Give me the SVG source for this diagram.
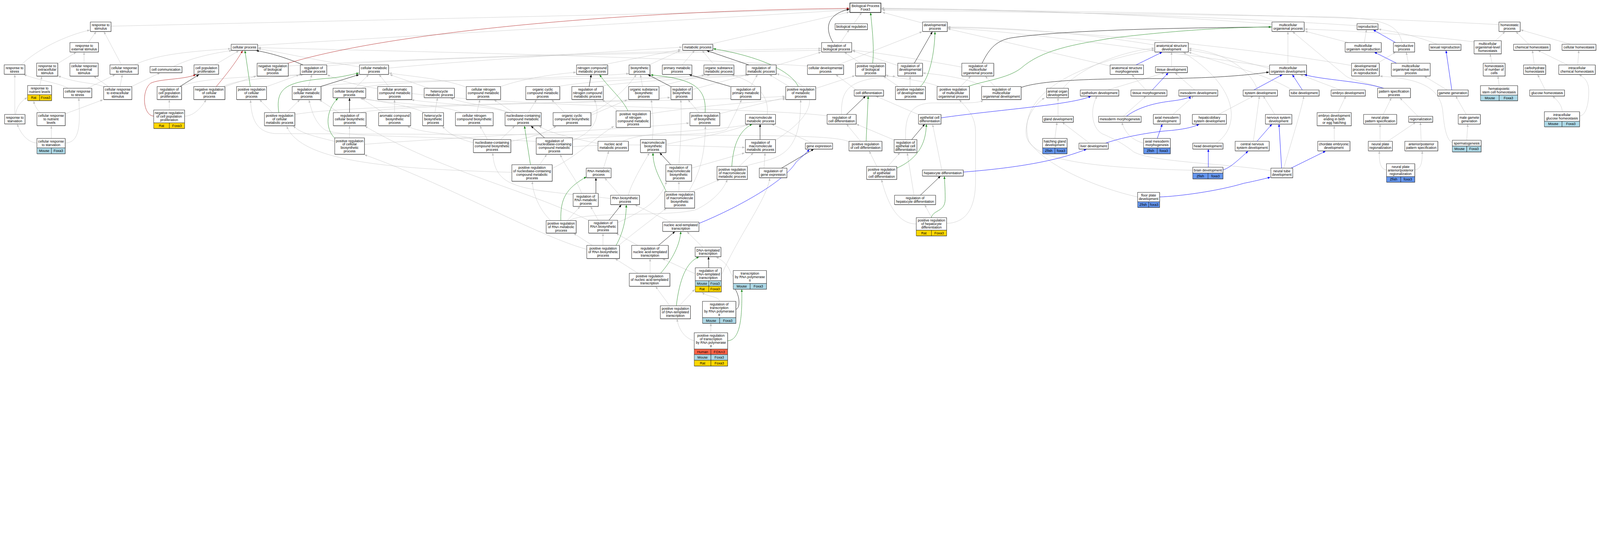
<svg xmlns="http://www.w3.org/2000/svg" width="6111" height="1408" viewBox="0 0 6111 1408" style="width:100vw;height:23.041vw;display:block">
<defs>
<style>
.t{font-family:"Liberation Sans",Arial,Helvetica,sans-serif;font-size:13px;text-anchor:middle;fill:#000}
.b{fill:#fff;stroke:#333;stroke-width:1.5}
.bp{fill:#fff;stroke:#333;stroke-width:2.4}
.s{fill:#777}
.c{stroke:#222;stroke-width:1.2}
.rat{fill:#ffd700}.mouse{fill:#add8e6}.zfish{fill:#6495ed}.human{fill:#ff6347}
.e{fill:none;stroke:#c0c0c0;stroke-width:1.1;marker-end:url(#ag)}
.k{fill:none;stroke:#000;stroke-width:1.3;marker-end:url(#ak)}
.g{fill:none;stroke:#228b22;stroke-width:1.3;marker-end:url(#agr)}
.r{fill:none;stroke:#b22222;stroke-width:1.3;marker-end:url(#ar)}
.u{fill:none;stroke:#0000ff;stroke-width:1.3;marker-end:url(#ab)}
</style>
<marker id="ag" viewBox="0 0 10 8" markerWidth="10" markerHeight="8" refX="10" refY="4" orient="auto" markerUnits="userSpaceOnUse"><path d="M0,0 L10,4 L0,8 z" fill="#c0c0c0"/></marker>
<marker id="ak" viewBox="0 0 10 8" markerWidth="10" markerHeight="8" refX="10" refY="4" orient="auto" markerUnits="userSpaceOnUse"><path d="M0,0 L10,4 L0,8 z" fill="#000"/></marker>
<marker id="agr" viewBox="0 0 10 8" markerWidth="10" markerHeight="8" refX="10" refY="4" orient="auto" markerUnits="userSpaceOnUse"><path d="M0,0 L10,4 L0,8 z" fill="#228b22"/></marker>
<marker id="ar" viewBox="0 0 10 8" markerWidth="10" markerHeight="8" refX="10" refY="4" orient="auto" markerUnits="userSpaceOnUse"><path d="M0,0 L10,4 L0,8 z" fill="#b22222"/></marker>
<marker id="ab" viewBox="0 0 10 8" markerWidth="10" markerHeight="8" refX="10" refY="4" orient="auto" markerUnits="userSpaceOnUse"><path d="M0,0 L10,4 L0,8 z" fill="#0000ff"/></marker>
</defs>
<rect x="0" y="0" width="6111" height="1408" fill="#fff"/>
<g id="edges">
<path class="e" d="M424,100 L3244,35"/>
<path class="e" d="M337,162.5 L367,121"/>
<path class="e" d="M464,247.5 L397,121"/>
<path class="e" d="M81,247.5 C140,190 250,135 343,115"/>
<path class="e" d="M221,242 L291,199.5"/>
<path class="e" d="M321,241 L321,199.5"/>
<path class="e" d="M152,326.5 L160,291.5"/>
<path class="e" d="M260,337 C230,318 160,310 91,285"/>
<path class="e" d="M334,337 L440,285"/>
<path class="e" d="M396,331 C360,315 300,320 222,290"/>
<path class="e" d="M414,330.5 L358,291"/>
<path class="e" d="M458.5,330.5 L467,285"/>
<path class="e" d="M514,247.5 C600,205 750,195 881,186"/>
<path class="e" d="M663,254 C720,225 800,205 885,193"/>
<path class="e" d="M821,247.5 L912,194"/>
<path class="e" d="M503.5,330 L611,278"/>
<path class="e" d="M56.6,437 L56.6,285"/>
<path class="e" d="M60,437 C62,410 80,385 104,373"/>
<path class="e" d="M154,430 C143,420 132,405 129,386"/>
<path class="e" d="M249,434.6 L393,381"/>
<path class="e" d="M141,546 C110,545 80,515 66,474"/>
<path class="e" d="M196,528.5 L196,481"/>
<path class="e" d="M249,546 C310,545 305,460 301,374.5"/>
<path class="e" d="M646.6,420 L646.6,381.5"/>
<path class="e" d="M705.8,443.6 C740,443 770,410 787,381"/>
<path class="e" d="M688,330.5 C760,300 900,295 1152,285"/>
<path class="e" d="M852,330.5 C900,305 1000,300 1158,285"/>
<path class="e" d="M1018,331 L1142,286"/>
<path class="e" d="M858.6,331 L979,290"/>
<path class="e" d="M984,173 L3244,38"/>
<path class="e" d="M1101,252 C1700,215 2700,192 3136,185"/>
<path class="e" d="M1248,252 C1600,215 2700,200 3136,192"/>
<path class="e" d="M1373,255 C1200,230 1050,195 986,186"/>
<path class="e" d="M3084,252 C2500,215 1500,195 986,182"/>
<path class="e" d="M1484,260 C1800,230 2300,200 2605,180"/>
<path class="e" d="M1178,330.5 L1191,285"/>
<path class="e" d="M1095,430 L1145,381"/>
<path class="e" d="M1040,430 L992,381"/>
<path class="e" d="M1356,337 L1408,285"/>
<path class="e" d="M1485,330.5 L1448,285"/>
<path class="e" d="M1638,337 L1489,285"/>
<path class="e" d="M1781,333 C1700,300 1550,290 1486,279"/>
<path class="e" d="M1912,330.5 C2000,300 2100,285 2200,276"/>
<path class="e" d="M2125,331 C2300,300 2600,300 2712,286"/>
<path class="e" d="M1380,337 C1450,305 2200,300 2402,281"/>
<path class="e" d="M1224,331 C1350,300 2400,305 2856,286"/>
<path class="e" d="M2270,331 C2500,300 2750,298 2862,286"/>
<path class="e" d="M1464,430 L1377,374"/>
<path class="e" d="M1622,430 C1560,400 1450,390 1381,374"/>
<path class="e" d="M1763,430 C1680,395 1460,395 1383,376"/>
<path class="e" d="M1507,430 L1507,381"/>
<path class="e" d="M1950,430 C1850,400 1650,395 1572,381"/>
<path class="e" d="M1661,430 L1671,374"/>
<path class="e" d="M1940,430 C1880,400 1780,400 1721,374"/>
<path class="e" d="M1821,430 L1833,381"/>
<path class="e" d="M1961,430 L1887,381"/>
<path class="e" d="M2018,430 L2049,381"/>
<path class="e" d="M2156,430 L2107,381"/>
<path class="e" d="M2186,535 C2290,500 2290,420 2270,381"/>
<path class="e" d="M1912,533 L1966,481"/>
<path class="e" d="M2284,548 C2200,530 2100,510 2059,481"/>
<path class="e" d="M2256,432 C2330,400 2400,330 2430,285"/>
<path class="e" d="M1862,533 L1833,481"/>
<path class="e" d="M1808,545 C1750,530 1710,510 1690,481"/>
<path class="e" d="M1820,533 C1750,510 1600,510 1556,481"/>
<path class="e" d="M1951,540 C2050,520 2100,500 2124,481"/>
<path class="e" d="M2332,758 C2000,720 1890,730 1882,584"/>
<path class="e" d="M1335,526.5 L1335,481"/>
<path class="e" d="M1278.5,540 C1200,520 1150,510 1120,481"/>
<path class="e" d="M1392,551 C1800,520 2300,500 2632,470"/>
<path class="e" d="M1126,437 C1400,390 2500,395 2999,368"/>
<path class="e" d="M2048,540 C1700,520 1280,525 1240,495 C1200,465 1190,420 1180,382"/>
<path class="e" d="M1294,430 L1220,381"/>
<path class="e" d="M1377,430 C1500,400 2300,395 2560,372"/>
<path class="e" d="M2250,842 C2000,720 1700,660 1394,482"/>
<path class="e" d="M2241,952 C2050,900 1700,700 1392,591"/>
<path class="e" d="M1955,658 C1500,645 1150,620 1095,482"/>
<path class="e" d="M2061,629 L2088,590"/>
<path class="e" d="M2109,643 C2200,600 2280,520 2345,482"/>
<path class="e" d="M2103,842 C2060,800 2035,740 2033,693"/>
<path class="e" d="M2222,738.5 C2200,680 2160,640 2140,590"/>
<path class="e" d="M2305,642 L2325,577"/>
<path class="e" d="M2167,842 L2215,789"/>
<path class="e" d="M2262,937 L2191,891"/>
<path class="e" d="M2285,841 L2256,789"/>
<path class="e" d="M2175,842 C2230,805 2560,830 2660,800 C2720,770 2760,730 2778,686"/>
<path class="e" d="M3261,90.5 L3291,48"/>
<path class="e" d="M3210,162.5 L3243,114"/>
<path class="e" d="M3285.5,241.5 L3225,199"/>
<path class="e" d="M2711,169 L3244,46"/>
<path class="e" d="M3523.5,88 L3370,47"/>
<path class="e" d="M4858,92 C4300,50 3800,35 3367,31"/>
<path class="e" d="M5183,98 C4600,60 3900,40 3367,33"/>
<path class="e" d="M5725,94 C5000,55 4000,40 3367,35"/>
<path class="e" d="M5355,162.5 C5340,100 5300,72 5100,65 C4500,55 3800,45 3370,39"/>
<path class="e" d="M2479,248 L2599,193"/>
<path class="e" d="M2605,248 L2653,193"/>
<path class="e" d="M2728,248 L2682,193"/>
<path class="e" d="M2300,248 L2600,189"/>
<path class="e" d="M2454,330.5 L2446,285"/>
<path class="e" d="M2930,437 C2940,360 2880,310 2795,286"/>
<path class="e" d="M2867,330.5 L2893,285"/>
<path class="e" d="M3014,330.5 L2939,285"/>
<path class="e" d="M2644,342 L2856,285"/>
<path class="e" d="M2962,535 C3130,430 3140,330 2966,282"/>
<path class="e" d="M2965,250 L3136,199"/>
<path class="e" d="M3200,248 L3522,121"/>
<path class="e" d="M3271,343.5 L3192,285"/>
<path class="e" d="M3432,330.5 L3374,291"/>
<path class="e" d="M3116,337.5 L3265,289"/>
<path class="e" d="M3429,250 L3256,194"/>
<path class="e" d="M3476,330.5 L3476,291"/>
<path class="e" d="M3760,331 C3700,300 3600,285 3525,279"/>
<path class="e" d="M3673,256 C3500,225 3350,200 3255,192"/>
<path class="e" d="M3507,437 L3345,367"/>
<path class="e" d="M3214,437 C3212,340 3240,300 3420,291"/>
<path class="e" d="M3159,442 C2800,400 1500,420 1250,285"/>
<path class="e" d="M3287,539.5 L3233,474"/>
<path class="e" d="M3416,535 L3271,474"/>
<path class="e" d="M3459,533 C3455,440 3480,395 3560,393 C3700,393 3740,395 3755,382"/>
<path class="e" d="M3391,635.5 L3437,583"/>
<path class="e" d="M3349,635.5 L3320,577"/>
<path class="e" d="M3499,855 C3440,855 3395,800 3367,686"/>
<path class="e" d="M3558,831 L3532,782"/>
<path class="e" d="M3491,745.5 L3465,584"/>
<path class="e" d="M3597,649 L3562,475"/>
<path class="e" d="M3616,853 C3700,850 3726,780 3726,690 L3726,505 C3726,440 3690,410 3664,381"/>
<path class="e" d="M2367,745.5 L2310,680"/>
<path class="e" d="M2400,745.5 C2410,700 2460,620 2480,584"/>
<path class="e" d="M2562,848 L2425,782"/>
<path class="e" d="M2593,732 L2593,693"/>
<path class="e" d="M2640,732 L2748,686"/>
<path class="e" d="M2630,732 C2660,680 2692,620 2694,482"/>
<path class="e" d="M2363,937 C2420,890 2500,830 2545,795"/>
<path class="e" d="M2641,642 L2844,584"/>
<path class="e" d="M2593,629 C2600,540 2605,450 2600,381"/>
<path class="e" d="M2359,850 C2450,810 2530,760 2545,693"/>
<path class="e" d="M2303,937 L2303,891"/>
<path class="e" d="M2436,937 L2353,891"/>
<path class="e" d="M2684,944 L2624,885"/>
<path class="e" d="M2483,1043.5 L2483,988"/>
<path class="e" d="M2437,1043.5 L2350,988"/>
<path class="e" d="M2558,1167.5 L2504,1094"/>
<path class="e" d="M2595,1167.5 L2653,1105"/>
<path class="e" d="M2655,1045 C2620,1030 2580,1010 2530,988"/>
<path class="e" d="M2757,1047 C2820,900 2930,760 2940,680"/>
<path class="e" d="M2800,1056 C2785,1040 2790,1010 2735,981"/>
<path class="e" d="M2748,1151 C2748,1130 2700,1135 2682,1116"/>
<path class="e" d="M2715,1270.5 L2715,1235"/>
<path class="e" d="M2651,1301 C2610,1290 2590,1250 2586,1218"/>
<path class="e" d="M2918,642 L2922,584"/>
<path class="e" d="M2823,635.5 L2877,584"/>
<path class="e" d="M3101,546.5 L2947,474"/>
<path class="e" d="M2543,551 C2700,520 2800,500 2860,474"/>
<path class="e" d="M2377,540 C2450,500 2750,500 2858,475"/>
<path class="e" d="M2186,535 C2300,510 2760,525 2780,490 C2800,450 2820,410 2832,381"/>
<path class="e" d="M2186,560 C2400,545 2700,560 2845,563"/>
<path class="e" d="M2844,635.5 C2950,600 3060,620 3058,381"/>
<path class="e" d="M2670,430 L2628,381"/>
<path class="e" d="M2749,434 L3000,372"/>
<path class="e" d="M2362,423.5 L2300,381"/>
<path class="e" d="M2484,434 C2700,400 2900,390 3000,378"/>
<path class="e" d="M2516,330.5 L2690,286"/>
<path class="e" d="M2491,533 C2500,460 2490,420 2488,381"/>
<path class="e" d="M2257,440 L2396,381"/>
<path class="e" d="M4410,172 C4100,120 3800,103 3620,103"/>
<path class="e" d="M4240,252 L3620,110"/>
<path class="e" d="M5162,250 C4700,170 4000,110 3620,105"/>
<path class="e" d="M4849,255 C4400,190 3900,120 3620,107"/>
<path class="e" d="M4474.5,254.5 L4474.5,199"/>
<path class="e" d="M4061,337 C4100,280 4250,200 4409,184"/>
<path class="e" d="M4231,343.5 L4447,278"/>
<path class="e" d="M4345,752 C4200,720 4000,640 3930,540 C3900,450 3930,280 4409,190"/>
<path class="e" d="M4646,546 C4740,480 4730,330 4520,200"/>
<path class="e" d="M4803,343.5 C4770,250 4650,195 4540,185"/>
<path class="e" d="M4849,262 C4700,220 4600,200 4540,191"/>
<path class="e" d="M4377,343.5 L4323,285"/>
<path class="e" d="M4563,343.5 L4488,278"/>
<path class="e" d="M3668,330.5 L3708,291"/>
<path class="e" d="M3800,330.5 L3763,291"/>
<path class="e" d="M3590,331 C3500,300 3420,300 3383,286"/>
<path class="e" d="M4041,444 L4041,374"/>
<path class="e" d="M4555,650 C4100,640 3940,600 3920,520 C3910,450 3960,390 3990,374"/>
<path class="e" d="M4854,652 C4700,625 4400,620 4330,580 C4280,540 4240,525 4220,515 C4170,500 4160,420 4190,367"/>
<path class="e" d="M4290,444 L4377,367"/>
<path class="e" d="M4480,437 L4559,367"/>
<path class="e" d="M4368,546 C4340,540 4300,520 4285,467"/>
<path class="e" d="M4029,528.5 L4037,467"/>
<path class="e" d="M4161,546.4 L4057,467"/>
<path class="e" d="M4654,437 L4787,367"/>
<path class="e" d="M4787,539.5 L4810,367"/>
<path class="e" d="M4869,437 L4825,367"/>
<path class="e" d="M4919,248 L4919,121"/>
<path class="e" d="M5150,162.5 L4984,119"/>
<path class="e" d="M5285,337 C5200,310 5160,305 5140,290 L4937,121"/>
<path class="e" d="M5630,160 C5400,130 5100,115 4983,111"/>
<path class="e" d="M5211,162.5 L5219,113.5"/>
<path class="e" d="M5261.5,241.5 L5330,199"/>
<path class="e" d="M5379,241.5 L5371,199"/>
<path class="e" d="M5489,169 C5420,140 5330,120 5265,112"/>
<path class="e" d="M5527,343.5 L5440,291"/>
<path class="e" d="M5547,546 C5520,530 5515,470 5510,420 C5500,350 5450,300 5270,291"/>
<path class="e" d="M5600,437 L5560,367"/>
<path class="e" d="M5602,535.5 L5606,474"/>
<path class="e" d="M5711.5,155.5 L5748,121"/>
<path class="e" d="M5839,169 L5790,121"/>
<path class="e" d="M5999,169 L5808,114"/>
<path class="e" d="M5699,241.5 L5691,206"/>
<path class="e" d="M5726,327 L5721,290.5"/>
<path class="e" d="M5860,248 L5853,192.5"/>
<path class="e" d="M5987,248 L5874,192.5"/>
<path class="e" d="M6026,248 L6030,192.5"/>
<path class="e" d="M5902,343.5 L5873,285"/>
<path class="e" d="M5967,426.5 C5965,400 5950,385 5930,367"/>
<path class="e" d="M6033,443 C6060,440 6068,390 6068,350 C6068,320 6060,300 6031,285"/>
<path class="e" d="M5120,343.5 L4966,285"/>
<path class="e" d="M4935,343.5 C4880,310 4800,280 4700,250 C4620,225 4570,210 4540,199"/>
<path class="e" d="M4903,642 C4930,550 4970,420 4980,367"/>
<path class="e" d="M5096,539.5 L5096,481"/>
<path class="e" d="M5110,430 L5140,367"/>
<path class="e" d="M5283,437 L5314,374"/>
<path class="e" d="M5415.5,444 L5347,374"/>
<path class="e" d="M5271,539.5 L5271,474"/>
<path class="e" d="M5300,539.5 L5407,467"/>
<path class="e" d="M5428,539.5 L5425,467"/>
<path class="e" d="M5295.5,649 C5268,645 5268,610 5268,577"/>
<path class="e" d="M5403,649 C5432,645 5432,610 5432,577"/>
<path class="e" d="M3243,541 C3190,518 3000,516 2400,516 L1050,510 C990,505 960,470 957,382"/>
<path class="k" d="M687,330.5 L760,285"/>
<path class="k" d="M1157.5,248 C1080,215 1020,200 978,193"/>
<path class="k" d="M1224,330.5 L1371,285"/>
<path class="k" d="M2250,330.5 L2258,285"/>
<path class="k" d="M1335,430 L1335,374.5"/>
<path class="k" d="M2080,526.5 L2028,481"/>
<path class="k" d="M2276,738.5 L2276,679.5"/>
<path class="k" d="M3182,162.5 C3150,110 3155,55 3244,35"/>
<path class="k" d="M3492,241.5 L3561,121"/>
<path class="k" d="M2860,248 L2699,193"/>
<path class="k" d="M2562,330.5 L2475,285"/>
<path class="k" d="M2790,330.5 L2632,285"/>
<path class="k" d="M3233,437 L3306,367"/>
<path class="k" d="M3482,533 L3532,474"/>
<path class="k" d="M3515,745.5 L3592,672.5"/>
<path class="k" d="M2326,841 L2373,782"/>
<path class="k" d="M2562,629 L2520,583.5"/>
<path class="k" d="M2515,937 L2578,884"/>
<path class="k" d="M2707,1022.5 L2706,980.5"/>
<path class="k" d="M2811,1181 C2830,1175 2825,1120 2800,1094"/>
<path class="k" d="M2903,533 L2903,474"/>
<path class="k" d="M2985,642 L3108,569.5"/>
<path class="k" d="M3751,241.5 C3780,180 3810,155 3860,145 C4050,115 4500,106 4856,103"/>
<path class="k" d="M3900,334 C3980,305 4200,300 4400,300 C4600,300 4750,290 4847,275"/>
<path class="g" d="M956,330.5 L935.5,193"/>
<path class="g" d="M1065,430 C1050,330 1100,310 1265,298 C1300,295 1340,285 1371,279"/>
<path class="g" d="M2398,423.5 C2380,380 2320,330 2290,285"/>
<path class="g" d="M1279,528 C1240,490 1245,420 1291,374.5"/>
<path class="g" d="M2026,629 L2003,481"/>
<path class="g" d="M2142,842 C2140,760 2160,720 2240,675"/>
<path class="g" d="M3333,241.5 C3340,180 3330,100 3325,48"/>
<path class="g" d="M3049,330.5 C3020,270 2900,215 2724,186"/>
<path class="g" d="M2693,430 C2700,330 2640,300 2485,286"/>
<path class="g" d="M3515,330.5 C3550,300 3570,200 3571,121"/>
<path class="g" d="M3308,539.5 L3316,367"/>
<path class="g" d="M3425,642 C3520,600 3537,530 3538,474"/>
<path class="g" d="M3557,831 C3565,800 3610,810 3610,760 C3610,720 3608,700 3607,673"/>
<path class="g" d="M2353,937 C2385,880 2392,820 2392,782"/>
<path class="g" d="M2545,732 C2520,680 2494,640 2494,583.5"/>
<path class="g" d="M2523,1043.5 C2570,990 2598,930 2600,884"/>
<path class="g" d="M2583,1167.5 C2595,1070 2620,1000 2670,981"/>
<path class="g" d="M2779,1301 C2830,1300 2835,1200 2833,1104.5"/>
<path class="g" d="M2795,635.5 C2800,560 2820,500 2873,474"/>
<path class="g" d="M3697,330.5 C3750,310 3850,300 3900,260 C3980,190 4100,170 4250,145 C4500,115 4700,104 4856,103"/>
<path class="r" d="M586.7,443.6 C545,440 540,345 575,318 C610,300 700,305 748,285"/>
<path class="r" d="M826,330.5 C860,290 900,240 927,193"/>
<path class="r" d="M1100,241.5 C1500,120 2400,40 3244,32"/>
<path class="u" d="M2670,853 C2800,800 2990,700 3040,620 C3060,600 3080,585 3091,570"/>
<path class="u" d="M3594,450 C3800,420 4100,400 4167,367"/>
<path class="u" d="M3679,657 C3900,640 4050,610 4150,569.5"/>
<path class="u" d="M4339,248 L4439,199"/>
<path class="u" d="M4401,343.5 L4462,278"/>
<path class="u" d="M4302,444 C4360,400 4440,390 4480,385 C4520,380 4545,372 4547,367"/>
<path class="u" d="M4420,528.5 L4439,474"/>
<path class="u" d="M4223,546.4 C4300,520 4400,505 4450,500 C4520,495 4560,485 4580,474"/>
<path class="u" d="M4801,539.5 L4858,474"/>
<path class="u" d="M4671,649 C4700,640 4730,610 4767,577"/>
<path class="u" d="M4615,638.5 L4615,569.5"/>
<path class="u" d="M4429,752 C4500,750 4650,730 4750,700 C4800,690 4830,682 4852,677"/>
<path class="u" d="M4789,343.5 L4898,285"/>
<path class="u" d="M4974,343.5 L4936,285"/>
<path class="u" d="M5286,337.5 C5200,310 5050,305 4982,285"/>
<path class="u" d="M4895,642 L4885,474"/>
<path class="u" d="M4931,642 L5063,577"/>
<path class="u" d="M5330,162.5 L5245,114"/>
<path class="u" d="M5334,241.5 L5249,199"/>
<path class="u" d="M5545,343.5 L5523,193"/>
</g>
<g id="nodes">
<g id="n1"><rect class="s" x="346" y="85.5" width="79" height="36"/><rect class="b" x="345" y="84" width="79" height="36"/><text class="t" y="99.9"><tspan x="384.5">response to</tspan><tspan x="384.5" dy="13.3">stimulus</tspan></text></g>
<g id="n2"><rect class="s" x="268" y="164" width="109" height="36"/><rect class="b" x="267" y="162.5" width="109" height="36"/><text class="t" y="178.4"><tspan x="321.5">response to</tspan><tspan x="321.5" dy="13.3">external stimulus</tspan></text></g>
<g id="n3"><rect class="s" x="17" y="249" width="79" height="36"/><rect class="b" x="16" y="247.5" width="79" height="36"/><text class="t" y="263.4"><tspan x="55.5">response to</tspan><tspan x="55.5" dy="13.3">stress</tspan></text></g>
<g id="n4"><rect class="s" x="141" y="242.5" width="80.5" height="49.5"/><rect class="b" x="140" y="241" width="80.5" height="49.5"/><text class="t" y="257"><tspan x="180.3">response to</tspan><tspan x="180.3" dy="13.3">extracellular</tspan><tspan x="180.3" dy="13.3">stimulus</tspan></text></g>
<g id="n5"><rect class="s" x="268" y="242.5" width="108" height="49.5"/><rect class="b" x="267" y="241" width="108" height="49.5"/><text class="t" y="257"><tspan x="321">cellular response</tspan><tspan x="321" dy="13.3">to external</tspan><tspan x="321" dy="13.3">stimulus</tspan></text></g>
<g id="n6"><rect class="s" x="421" y="249" width="108" height="36"/><rect class="b" x="420" y="247.5" width="108" height="36"/><text class="t" y="263.4"><tspan x="474">cellular response</tspan><tspan x="474" dy="13.3">to stimulus</tspan></text></g>
<g id="n7"><rect class="s" x="574" y="255.5" width="122" height="23.5"/><rect class="b" x="573" y="254" width="122" height="23.5"/><text class="t" x="634" y="270.3">cell communication</text></g>
<g id="n8"><rect class="s" x="742" y="249" width="94" height="36"/><rect class="b" x="741" y="247.5" width="94" height="36"/><text class="t" y="263.4"><tspan x="788">cell population</tspan><tspan x="788" dy="13.3">proliferation</tspan></text></g>
<g id="n9"><rect class="s" x="983" y="243" width="119" height="49"/><rect class="b" x="982" y="241.5" width="119" height="49"/><text class="t" y="257.2"><tspan x="1041.5">negative regulation</tspan><tspan x="1041.5" dy="13.3">of biological</tspan><tspan x="1041.5" dy="13.3">process</tspan></text></g>
<g id="n10"><rect class="s" x="884" y="170.5" width="101" height="23"/><rect class="b" x="883" y="169" width="101" height="23"/><text class="t" x="933.5" y="185">cellular process</text></g>
<g id="n11"><rect class="s" x="106.5" y="328" width="91.5" height="57.5"/><rect class="b" x="105.5" y="326.5" width="91.5" height="35.5"/><text class="t" y="342.1"><tspan x="151.3">response to</tspan><tspan x="151.3" dy="13.3">nutrient levels</tspan></text><rect class="rat c" x="105.5" y="362" width="46.1" height="22"/><rect class="rat c" x="151.6" y="362" width="45.4" height="22"/><text class="t" x="128.6" y="377.5">Rat</text><text class="t" x="174.3" y="377.5">Foxa3</text></g>
<g id="n12"><rect class="s" x="243.5" y="338.5" width="108" height="36"/><rect class="b" x="242.5" y="337" width="108" height="36"/><text class="t" y="352.9"><tspan x="296.5">cellular response</tspan><tspan x="296.5" dy="13.3">to stress</tspan></text></g>
<g id="n13"><rect class="s" x="397" y="332" width="107.5" height="49.5"/><rect class="b" x="396" y="330.5" width="107.5" height="49.5"/><text class="t" y="346.5"><tspan x="449.8">cellular response</tspan><tspan x="449.8" dy="13.3">to extracellular</tspan><tspan x="449.8" dy="13.3">stimulus</tspan></text></g>
<g id="n14"><rect class="s" x="601" y="332" width="93.5" height="49.5"/><rect class="b" x="600" y="330.5" width="93.5" height="49.5"/><text class="t" y="346.5"><tspan x="646.8">regulation of</tspan><tspan x="646.8" dy="13.3">cell population</tspan><tspan x="646.8" dy="13.3">proliferation</tspan></text></g>
<g id="n15"><rect class="s" x="741" y="332" width="119" height="49.5"/><rect class="b" x="740" y="330.5" width="119" height="49.5"/><text class="t" y="346.5"><tspan x="799.5">negative regulation</tspan><tspan x="799.5" dy="13.3">of cellular</tspan><tspan x="799.5" dy="13.3">process</tspan></text></g>
<g id="n16"><rect class="s" x="904.5" y="332" width="114.5" height="49.5"/><rect class="b" x="903.5" y="330.5" width="114.5" height="49.5"/><text class="t" y="346.5"><tspan x="960.8">positive regulation</tspan><tspan x="960.8" dy="13.3">of cellular</tspan><tspan x="960.8" dy="13.3">process</tspan></text></g>
<g id="n17"><rect class="s" x="18.5" y="438.5" width="78" height="36"/><rect class="b" x="17.5" y="437" width="78" height="36"/><text class="t" y="452.9"><tspan x="56.5">response to</tspan><tspan x="56.5" dy="13.3">starvation</tspan></text></g>
<g id="n18"><rect class="s" x="142" y="431.5" width="108" height="49.5"/><rect class="b" x="141" y="430" width="108" height="49.5"/><text class="t" y="446"><tspan x="195">cellular response</tspan><tspan x="195" dy="13.3">to nutrient</tspan><tspan x="195" dy="13.3">levels</tspan></text></g>
<g id="n19"><rect class="s" x="588" y="421.5" width="118" height="70.5"/><rect class="b" x="587" y="420" width="118" height="49"/><text class="t" y="435.7"><tspan x="646">negative regulation</tspan><tspan x="646" dy="13.3">of cell population</tspan><tspan x="646" dy="13.3">proliferation</tspan></text><rect class="rat c" x="587" y="469" width="59.6" height="21.5"/><rect class="rat c" x="646.6" y="469" width="58.4" height="21.5"/><text class="t" x="616.8" y="484.3">Rat</text><text class="t" x="675.8" y="484.3">Foxa3</text></g>
<g id="n20"><rect class="s" x="142" y="530" width="108" height="58.3"/><rect class="b" x="141" y="528.5" width="108" height="36.3"/><text class="t" y="544.5"><tspan x="195">cellular response</tspan><tspan x="195" dy="13.3">to starvation</tspan></text><rect class="mouse c" x="141" y="564.8" width="55.4" height="22"/><rect class="mouse c" x="196.4" y="564.8" width="52.6" height="22"/><text class="t" x="168.7" y="580.3">Mouse</text><text class="t" x="222.7" y="580.3">Foxa3</text></g>
<g id="n21"><rect class="s" x="1148" y="249.5" width="101" height="36"/><rect class="b" x="1147" y="248" width="101" height="36"/><text class="t" y="263.9"><tspan x="1197.5">regulation of</tspan><tspan x="1197.5" dy="13.3">cellular process</tspan></text></g>
<g id="n22"><rect class="s" x="1374" y="249.5" width="111" height="36"/><rect class="b" x="1373" y="248" width="111" height="36"/><text class="t" y="263.9"><tspan x="1428.5">cellular metabolic</tspan><tspan x="1428.5" dy="13.3">process</tspan></text></g>
<g id="n23"><rect class="s" x="2203" y="249.5" width="119" height="36"/><rect class="b" x="2202" y="248" width="119" height="36"/><text class="t" y="263.9"><tspan x="2261.5">nitrogen compound</tspan><tspan x="2261.5" dy="13.3">metabolic process</tspan></text></g>
<g id="n24"><rect class="s" x="1117" y="332" width="110" height="49.5"/><rect class="b" x="1116" y="330.5" width="110" height="49.5"/><text class="t" y="346.5"><tspan x="1171">regulation of</tspan><tspan x="1171" dy="13.3">cellular metabolic</tspan><tspan x="1171" dy="13.3">process</tspan></text></g>
<g id="n25"><rect class="s" x="1273" y="338.5" width="125" height="36"/><rect class="b" x="1272" y="337" width="125" height="36"/><text class="t" y="352.9"><tspan x="1334.5">cellular biosynthetic</tspan><tspan x="1334.5" dy="13.3">process</tspan></text></g>
<g id="n26"><rect class="s" x="1443.5" y="332" width="130.5" height="49.5"/><rect class="b" x="1442.5" y="330.5" width="130.5" height="49.5"/><text class="t" y="346.5"><tspan x="1507.8">cellular aromatic</tspan><tspan x="1507.8" dy="13.3">compound metabolic</tspan><tspan x="1507.8" dy="13.3">process</tspan></text></g>
<g id="n27"><rect class="s" x="1621" y="338.5" width="115.5" height="36"/><rect class="b" x="1620" y="337" width="115.5" height="36"/><text class="t" y="352.9"><tspan x="1677.8">heterocycle</tspan><tspan x="1677.8" dy="13.3">metabolic process</tspan></text></g>
<g id="n28"><rect class="s" x="1782" y="332" width="131" height="49.5"/><rect class="b" x="1781" y="330.5" width="131" height="49.5"/><text class="t" y="346.5"><tspan x="1846.5">cellular nitrogen</tspan><tspan x="1846.5" dy="13.3">compound metabolic</tspan><tspan x="1846.5" dy="13.3">process</tspan></text></g>
<g id="n29"><rect class="s" x="2009" y="332" width="130" height="49.5"/><rect class="b" x="2008" y="330.5" width="130" height="49.5"/><text class="t" y="346.5"><tspan x="2073">organic cyclic</tspan><tspan x="2073" dy="13.3">compound metabolic</tspan><tspan x="2073" dy="13.3">process</tspan></text></g>
<g id="n30"><rect class="s" x="2185" y="332" width="120" height="49.5"/><rect class="b" x="2184" y="330.5" width="120" height="49.5"/><text class="t" y="346.5"><tspan x="2244">regulation of</tspan><tspan x="2244" dy="13.3">nitrogen compound</tspan><tspan x="2244" dy="13.3">metabolic process</tspan></text></g>
<g id="n31"><rect class="s" x="1011" y="431.5" width="116" height="50"/><rect class="b" x="1010" y="430" width="116" height="50"/><text class="t" y="446.2"><tspan x="1068">positive regulation</tspan><tspan x="1068" dy="13.3">of cellular</tspan><tspan x="1068" dy="13.3">metabolic process</tspan></text></g>
<g id="n32"><rect class="s" x="1274" y="431.5" width="125" height="50"/><rect class="b" x="1273" y="430" width="125" height="50"/><text class="t" y="446.2"><tspan x="1335.5">regulation of</tspan><tspan x="1335.5" dy="13.3">cellular biosynthetic</tspan><tspan x="1335.5" dy="13.3">process</tspan></text></g>
<g id="n33"><rect class="s" x="1447" y="431.5" width="122.5" height="50"/><rect class="b" x="1446" y="430" width="122.5" height="50"/><text class="t" y="446.2"><tspan x="1507.3">aromatic compound</tspan><tspan x="1507.3" dy="13.3">biosynthetic</tspan><tspan x="1507.3" dy="13.3">process</tspan></text></g>
<g id="n34"><rect class="s" x="1615" y="431.5" width="80" height="50"/><rect class="b" x="1614" y="430" width="80" height="50"/><text class="t" y="446.2"><tspan x="1654">heterocycle</tspan><tspan x="1654" dy="13.3">biosynthetic</tspan><tspan x="1654" dy="13.3">process</tspan></text></g>
<g id="n35"><rect class="s" x="1740.5" y="431.5" width="144" height="50"/><rect class="b" x="1739.5" y="430" width="144" height="50"/><text class="t" y="446.2"><tspan x="1811.5">cellular nitrogen</tspan><tspan x="1811.5" dy="13.3">compound biosynthetic</tspan><tspan x="1811.5" dy="13.3">process</tspan></text></g>
<g id="n36"><rect class="s" x="1930" y="431.5" width="138" height="50"/><rect class="b" x="1929" y="430" width="138" height="50"/><text class="t" y="446.2"><tspan x="1998">nucleobase-containing</tspan><tspan x="1998" dy="13.3">compound metabolic</tspan><tspan x="1998" dy="13.3">process</tspan></text></g>
<g id="n37"><rect class="s" x="2113.5" y="431.5" width="144.5" height="50"/><rect class="b" x="2112.5" y="430" width="144.5" height="50"/><text class="t" y="446.2"><tspan x="2184.8">organic cyclic</tspan><tspan x="2184.8" dy="13.3">compound biosynthetic</tspan><tspan x="2184.8" dy="13.3">process</tspan></text></g>
<g id="n38"><rect class="s" x="1279.5" y="528" width="113.5" height="62.5"/><rect class="b" x="1278.5" y="526.5" width="113.5" height="62.5"/><text class="t" y="542.3"><tspan x="1335.3">positive regulation</tspan><tspan x="1335.3" dy="13.3">of cellular</tspan><tspan x="1335.3" dy="13.3">biosynthetic</tspan><tspan x="1335.3" dy="13.3">process</tspan></text></g>
<g id="n39"><rect class="s" x="1809" y="534.5" width="143" height="49.5"/><rect class="b" x="1808" y="533" width="143" height="49.5"/><text class="t" y="549"><tspan x="1879.5">nucleobase-containing</tspan><tspan x="1879.5" dy="13.3">compound biosynthetic</tspan><tspan x="1879.5" dy="13.3">process</tspan></text></g>
<g id="n40"><rect class="s" x="2049" y="528" width="138.5" height="62.5"/><rect class="b" x="2048" y="526.5" width="138.5" height="62.5"/><text class="t" y="542.3"><tspan x="2117.3">regulation of</tspan><tspan x="2117.3" dy="13.3">nucleobase-containing</tspan><tspan x="2117.3" dy="13.3">compound metabolic</tspan><tspan x="2117.3" dy="13.3">process</tspan></text></g>
<g id="n41"><rect class="s" x="2285" y="541" width="116" height="36.5"/><rect class="b" x="2284" y="539.5" width="116" height="36.5"/><text class="t" y="555.6"><tspan x="2342">nucleic acid</tspan><tspan x="2342" dy="13.3">metabolic process</tspan></text></g>
<g id="n42"><rect class="s" x="1956" y="630.5" width="154" height="63"/><rect class="b" x="1955" y="629" width="154" height="63"/><text class="t" y="645"><tspan x="2032">positive regulation</tspan><tspan x="2032" dy="13.3">of nucleobase-containing</tspan><tspan x="2032" dy="13.3">compound metabolic</tspan><tspan x="2032" dy="13.3">process</tspan></text></g>
<g id="n43"><rect class="s" x="2240" y="643.5" width="95" height="36.5"/><rect class="b" x="2239" y="642" width="95" height="36.5"/><text class="t" y="658.1"><tspan x="2286.5">RNA metabolic</tspan><tspan x="2286.5" dy="13.3">process</tspan></text></g>
<g id="n44"><rect class="s" x="2190" y="740" width="96" height="49.5"/><rect class="b" x="2189" y="738.5" width="96" height="49.5"/><text class="t" y="754.5"><tspan x="2237">regulation of</tspan><tspan x="2237" dy="13.3">RNA metabolic</tspan><tspan x="2237" dy="13.3">process</tspan></text></g>
<g id="n45"><rect class="s" x="2087" y="843.5" width="114.5" height="48"/><rect class="b" x="2086" y="842" width="114.5" height="48"/><text class="t" y="857.2"><tspan x="2143.3">positive regulation</tspan><tspan x="2143.3" dy="13.3">of RNA metabolic</tspan><tspan x="2143.3" dy="13.3">process</tspan></text></g>
<g id="n46"><rect class="s" x="2249" y="842.5" width="111" height="49"/><rect class="b" x="2248" y="841" width="111" height="49"/><text class="t" y="856.7"><tspan x="2303.5">regulation of</tspan><tspan x="2303.5" dy="13.3">RNA biosynthetic</tspan><tspan x="2303.5" dy="13.3">process</tspan></text></g>
<g id="n47"><rect class="s" x="2242" y="938.5" width="125" height="50"/><rect class="b" x="2241" y="937" width="125" height="50"/><text class="t" y="953.2"><tspan x="2303.5">positive regulation</tspan><tspan x="2303.5" dy="13.3">of RNA biosynthetic</tspan><tspan x="2303.5" dy="13.3">process</tspan></text></g>
<g id="n48"><rect class="s" x="2333" y="747" width="110.5" height="35.5"/><rect class="b" x="2332" y="745.5" width="110.5" height="35.5"/><text class="t" y="761.1"><tspan x="2387.3">RNA biosynthetic</tspan><tspan x="2387.3" dy="13.3">process</tspan></text></g>
<g id="n49"><rect class="s" x="2540" y="733.5" width="114" height="62.5"/><rect class="b" x="2539" y="732" width="114" height="62.5"/><text class="t" y="747.8"><tspan x="2596">positive regulation</tspan><tspan x="2596" dy="13.3">of macromolecule</tspan><tspan x="2596" dy="13.3">biosynthetic</tspan><tspan x="2596" dy="13.3">process</tspan></text></g>
<g id="n50"><rect class="s" x="3417.5" y="747" width="157" height="35.5"/><rect class="b" x="3416.5" y="745.5" width="157" height="35.5"/><text class="t" y="761.1"><tspan x="3495">regulation of</tspan><tspan x="3495" dy="13.3">hepatocyte differentiation</tspan></text></g>
<g id="n51"><rect class="s" x="2532" y="849.5" width="138.5" height="35.5"/><rect class="b" x="2531" y="848" width="138.5" height="35.5"/><text class="t" y="863.6"><tspan x="2600.3">nucleic acid-templated</tspan><tspan x="2600.3" dy="13.3">transcription</tspan></text></g>
<g id="n52"><rect class="s" x="3500.5" y="832.5" width="116" height="69.5"/><rect class="b" x="3499.5" y="831" width="116" height="48"/><text class="t" y="846.2"><tspan x="3557.5">positive regulation</tspan><tspan x="3557.5" dy="13.3">of hepatocyte</tspan><tspan x="3557.5" dy="13.3">differentiation</tspan></text><rect class="rat c" x="3499.5" y="879" width="58.1" height="21.5"/><rect class="rat c" x="3557.6" y="879" width="57.9" height="21.5"/><text class="t" x="3528.6" y="894.3">Rat</text><text class="t" x="3586.6" y="894.3">Foxa3</text></g>
<g id="n53"><rect class="s" x="2413.5" y="938.5" width="140" height="50"/><rect class="b" x="2412.5" y="937" width="140" height="50"/><text class="t" y="953.2"><tspan x="2482.5">regulation of</tspan><tspan x="2482.5" dy="13.3">nucleic acid-templated</tspan><tspan x="2482.5" dy="13.3">transcription</tspan></text></g>
<g id="n54"><rect class="s" x="2656" y="945.5" width="98.5" height="36"/><rect class="b" x="2655" y="944" width="98.5" height="36"/><text class="t" y="959.9"><tspan x="2704.3">DNA-templated</tspan><tspan x="2704.3" dy="13.3">transcription</tspan></text></g>
<g id="n55"><rect class="s" x="2656.5" y="1024" width="99.5" height="92"/><rect class="b" x="2655.5" y="1022.5" width="99.5" height="49.5"/><text class="t" y="1038.5"><tspan x="2705.3">regulation of</tspan><tspan x="2705.3" dy="13.3">DNA-templated</tspan><tspan x="2705.3" dy="13.3">transcription</tspan></text><rect class="mouse c" x="2655.5" y="1072" width="51.5" height="21"/><rect class="mouse c" x="2707" y="1072" width="48" height="21"/><text class="t" x="2681.3" y="1087">Mouse</text><text class="t" x="2731" y="1087">Foxa3</text><rect class="rat c" x="2655.5" y="1093" width="51.5" height="21.5"/><rect class="rat c" x="2707" y="1093" width="48" height="21.5"/><text class="t" x="2681.3" y="1108.3">Rat</text><text class="t" x="2731" y="1108.3">Foxa3</text></g>
<g id="n56"><rect class="s" x="2801.5" y="1034.5" width="127" height="71"/><rect class="b" x="2800.5" y="1033" width="127" height="49.5"/><text class="t" y="1049"><tspan x="2864">transcription</tspan><tspan x="2864" dy="13.3">by RNA polymerase</tspan><tspan x="2864" dy="13.3">II</tspan></text><rect class="mouse c" x="2800.5" y="1082.5" width="64.5" height="21.5"/><rect class="mouse c" x="2865" y="1082.5" width="62.5" height="21.5"/><text class="t" x="2832.8" y="1097.8">Mouse</text><text class="t" x="2896.3" y="1097.8">Foxa3</text></g>
<g id="n57"><rect class="s" x="2404.5" y="1045" width="155" height="49.5"/><rect class="b" x="2403.5" y="1043.5" width="155" height="49.5"/><text class="t" y="1059.5"><tspan x="2481">positive regulation</tspan><tspan x="2481" dy="13.3">of nucleic acid-templated</tspan><tspan x="2481" dy="13.3">transcription</tspan></text></g>
<g id="n58"><rect class="s" x="2523" y="1169" width="115" height="49.5"/><rect class="b" x="2522" y="1167.5" width="115" height="49.5"/><text class="t" y="1183.5"><tspan x="2579.5">positive regulation</tspan><tspan x="2579.5" dy="13.3">of DNA-templated</tspan><tspan x="2579.5" dy="13.3">transcription</tspan></text></g>
<g id="n59"><rect class="s" x="2684" y="1152" width="127.5" height="84"/><rect class="b" x="2683" y="1150.5" width="127.5" height="62.5"/><text class="t" y="1166.3"><tspan x="2746.8">regulation of</tspan><tspan x="2746.8" dy="13.3">transcription</tspan><tspan x="2746.8" dy="13.3">by RNA polymerase</tspan><tspan x="2746.8" dy="13.3">II</tspan></text><rect class="mouse c" x="2683" y="1213" width="65.5" height="21.5"/><rect class="mouse c" x="2748.5" y="1213" width="62" height="21.5"/><text class="t" x="2715.8" y="1228.3">Mouse</text><text class="t" x="2779.5" y="1228.3">Foxa3</text></g>
<g id="n60"><rect class="s" x="2652.5" y="1272" width="127.5" height="127"/><rect class="b" x="2651.5" y="1270.5" width="127.5" height="62.5"/><text class="t" y="1286.3"><tspan x="2715.3">positive regulation</tspan><tspan x="2715.3" dy="13.3">of transcription</tspan><tspan x="2715.3" dy="13.3">by RNA polymerase</tspan><tspan x="2715.3" dy="13.3">II</tspan></text><rect class="human c" x="2651.5" y="1333" width="63.8" height="21"/><rect class="human c" x="2715.3" y="1333" width="63.7" height="21"/><text class="t" x="2683.4" y="1348">Human</text><text class="t" x="2747.2" y="1348">FOXA3</text><rect class="mouse c" x="2651.5" y="1354" width="63.8" height="21.5"/><rect class="mouse c" x="2715.3" y="1354" width="63.7" height="21.5"/><text class="t" x="2683.4" y="1369.3">Mouse</text><text class="t" x="2747.2" y="1369.3">Foxa3</text><rect class="rat c" x="2651.5" y="1375.5" width="63.8" height="22"/><rect class="rat c" x="2715.3" y="1375.5" width="63.7" height="22"/><text class="t" x="2683.4" y="1391">Rat</text><text class="t" x="2747.2" y="1391">Foxa3</text></g>
<g id="n61"><rect class="s" x="3247" y="13" width="118.5" height="36"/><rect class="bp" x="3246" y="11.5" width="118.5" height="36"/><text class="t" y="27.4"><tspan x="3305.3">Biological Process</tspan><tspan x="3305.3" dy="13.3">Foxa3</tspan></text></g>
<g id="n62"><rect class="s" x="3190.5" y="92" width="123.5" height="22.5"/><rect class="b" x="3189.5" y="90.5" width="123.5" height="22.5"/><text class="t" x="3251.3" y="106.3">biological regulation</text></g>
<g id="n63"><rect class="s" x="3524.5" y="85.5" width="94.5" height="36"/><rect class="b" x="3523.5" y="84" width="94.5" height="36"/><text class="t" y="99.9"><tspan x="3570.8">developmental</tspan><tspan x="3570.8" dy="13.3">process</tspan></text></g>
<g id="n64"><rect class="s" x="2608.5" y="170.5" width="115" height="23"/><rect class="b" x="2607.5" y="169" width="115" height="23"/><text class="t" x="2665" y="185">metabolic process</text></g>
<g id="n65"><rect class="s" x="3139" y="164" width="115" height="36"/><rect class="b" x="3138" y="162.5" width="115" height="36"/><text class="t" y="178.4"><tspan x="3195.5">regulation of</tspan><tspan x="3195.5" dy="13.3">biological process</tspan></text></g>
<g id="n66"><rect class="s" x="2403.5" y="249.5" width="80" height="36"/><rect class="b" x="2402.5" y="248" width="80" height="36"/><text class="t" y="263.9"><tspan x="2442.5">biosynthetic</tspan><tspan x="2442.5" dy="13.3">process</tspan></text></g>
<g id="n67"><rect class="s" x="2530.5" y="249.5" width="113" height="36"/><rect class="b" x="2529.5" y="248" width="113" height="36"/><text class="t" y="263.9"><tspan x="2586">primary metabolic</tspan><tspan x="2586" dy="13.3">process</tspan></text></g>
<g id="n68"><rect class="s" x="2689.5" y="249.5" width="114.5" height="36"/><rect class="b" x="2688.5" y="248" width="114.5" height="36"/><text class="t" y="263.9"><tspan x="2745.8">organic substance</tspan><tspan x="2745.8" dy="13.3">metabolic process</tspan></text></g>
<g id="n69"><rect class="s" x="2850.5" y="249.5" width="115" height="36"/><rect class="b" x="2849.5" y="248" width="115" height="36"/><text class="t" y="263.9"><tspan x="2907">regulation of</tspan><tspan x="2907" dy="13.3">metabolic process</tspan></text></g>
<g id="n70"><rect class="s" x="3085" y="249.5" width="138" height="36"/><rect class="b" x="3084" y="248" width="138" height="36"/><text class="t" y="263.9"><tspan x="3153">cellular developmental</tspan><tspan x="3153" dy="13.3">process</tspan></text></g>
<g id="n71"><rect class="s" x="3268.5" y="243" width="114.5" height="48.5"/><rect class="b" x="3267.5" y="241.5" width="114.5" height="48.5"/><text class="t" y="257"><tspan x="3324.8">positive regulation</tspan><tspan x="3324.8" dy="13.3">of biological</tspan><tspan x="3324.8" dy="13.3">process</tspan></text></g>
<g id="n72"><rect class="s" x="3430" y="243" width="94.5" height="48.5"/><rect class="b" x="3429" y="241.5" width="94.5" height="48.5"/><text class="t" y="257"><tspan x="3476.3">regulation of</tspan><tspan x="3476.3" dy="13.3">developmental</tspan><tspan x="3476.3" dy="13.3">process</tspan></text></g>
<g id="n73"><rect class="s" x="2402" y="332" width="116" height="49.5"/><rect class="b" x="2401" y="330.5" width="116" height="49.5"/><text class="t" y="346.5"><tspan x="2459">organic substance</tspan><tspan x="2459" dy="13.3">biosynthetic</tspan><tspan x="2459" dy="13.3">process</tspan></text></g>
<g id="n74"><rect class="s" x="2563.5" y="332" width="81.5" height="49.5"/><rect class="b" x="2562.5" y="330.5" width="81.5" height="49.5"/><text class="t" y="346.5"><tspan x="2603.3">regulation of</tspan><tspan x="2603.3" dy="13.3">biosynthetic</tspan><tspan x="2603.3" dy="13.3">process</tspan></text></g>
<g id="n75"><rect class="s" x="2792.5" y="332" width="113.5" height="49.5"/><rect class="b" x="2791.5" y="330.5" width="113.5" height="49.5"/><text class="t" y="346.5"><tspan x="2848.3">regulation of</tspan><tspan x="2848.3" dy="13.3">primary metabolic</tspan><tspan x="2848.3" dy="13.3">process</tspan></text></g>
<g id="n76"><rect class="s" x="3002" y="332" width="114.5" height="49.5"/><rect class="b" x="3001" y="330.5" width="114.5" height="49.5"/><text class="t" y="346.5"><tspan x="3058.3">positive regulation</tspan><tspan x="3058.3" dy="13.3">of metabolic</tspan><tspan x="3058.3" dy="13.3">process</tspan></text></g>
<g id="n77"><rect class="s" x="3263.5" y="345" width="112" height="23"/><rect class="b" x="3262.5" y="343.5" width="112" height="23"/><text class="t" x="3318.5" y="359.5">cell differentiation</text></g>
<g id="n78"><rect class="s" x="3421" y="332" width="114.5" height="49.5"/><rect class="b" x="3420" y="330.5" width="114.5" height="49.5"/><text class="t" y="346.5"><tspan x="3477.3">positive regulation</tspan><tspan x="3477.3" dy="13.3">of developmental</tspan><tspan x="3477.3" dy="13.3">process</tspan></text></g>
<g id="n79"><rect class="s" x="2354" y="425" width="131" height="63"/><rect class="b" x="2353" y="423.5" width="131" height="63"/><text class="t" y="439.6"><tspan x="2418.5">positive regulation</tspan><tspan x="2418.5" dy="13.3">of nitrogen</tspan><tspan x="2418.5" dy="13.3">compound metabolic</tspan><tspan x="2418.5" dy="13.3">process</tspan></text></g>
<g id="n80"><rect class="s" x="2636" y="431.5" width="114" height="50"/><rect class="b" x="2635" y="430" width="114" height="50"/><text class="t" y="446.2"><tspan x="2692">positive regulation</tspan><tspan x="2692" dy="13.3">of biosynthetic</tspan><tspan x="2692" dy="13.3">process</tspan></text></g>
<g id="n81"><rect class="s" x="2848" y="438.5" width="115" height="36.5"/><rect class="b" x="2847" y="437" width="115" height="36.5"/><text class="t" y="453.1"><tspan x="2904.5">macromolecule</tspan><tspan x="2904.5" dy="13.3">metabolic process</tspan></text></g>
<g id="n82"><rect class="s" x="3160" y="438.5" width="111" height="36.5"/><rect class="b" x="3159" y="437" width="111" height="36.5"/><text class="t" y="453.1"><tspan x="3214.5">regulation of</tspan><tspan x="3214.5" dy="13.3">cell differentiation</tspan></text></g>
<g id="n83"><rect class="s" x="3509" y="438.5" width="86" height="36.5"/><rect class="b" x="3508" y="437" width="86" height="36.5"/><text class="t" y="453.1"><tspan x="3551">epithelial cell</tspan><tspan x="3551" dy="13.3">differentiation</tspan></text></g>
<g id="n84"><rect class="s" x="2447" y="534.5" width="97.5" height="49.5"/><rect class="b" x="2446" y="533" width="97.5" height="49.5"/><text class="t" y="549"><tspan x="2494.8">macromolecule</tspan><tspan x="2494.8" dy="13.3">biosynthetic</tspan><tspan x="2494.8" dy="13.3">process</tspan></text></g>
<g id="n85"><rect class="s" x="2848" y="534.5" width="115" height="49.5"/><rect class="b" x="2847" y="533" width="115" height="49.5"/><text class="t" y="549"><tspan x="2904.5">regulation of</tspan><tspan x="2904.5" dy="13.3">macromolecule</tspan><tspan x="2904.5" dy="13.3">metabolic process</tspan></text></g>
<g id="n86"><rect class="s" x="3077" y="548" width="104" height="22.5"/><rect class="b" x="3076" y="546.5" width="104" height="22.5"/><text class="t" x="3128" y="562.3">gene expression</text></g>
<g id="n87"><rect class="s" x="3243.5" y="541" width="126" height="36.5"/><rect class="b" x="3242.5" y="539.5" width="126" height="36.5"/><text class="t" y="555.6"><tspan x="3305.5">positive regulation</tspan><tspan x="3305.5" dy="13.3">of cell differentiation</tspan></text></g>
<g id="n88"><rect class="s" x="3416" y="534.5" width="87" height="49.5"/><rect class="b" x="3415" y="533" width="87" height="49.5"/><text class="t" y="549"><tspan x="3458.5">regulation of</tspan><tspan x="3458.5" dy="13.3">epithelial cell</tspan><tspan x="3458.5" dy="13.3">differentiation</tspan></text></g>
<g id="n89"><rect class="s" x="2544" y="630.5" width="98.5" height="63"/><rect class="b" x="2543" y="629" width="98.5" height="63"/><text class="t" y="645"><tspan x="2592.3">regulation of</tspan><tspan x="2592.3" dy="13.3">macromolecule</tspan><tspan x="2592.3" dy="13.3">biosynthetic</tspan><tspan x="2592.3" dy="13.3">process</tspan></text></g>
<g id="n90"><rect class="s" x="2739.5" y="637" width="116" height="49.5"/><rect class="b" x="2738.5" y="635.5" width="116" height="49.5"/><text class="t" y="651.5"><tspan x="2796.5">positive regulation</tspan><tspan x="2796.5" dy="13.3">of macromolecule</tspan><tspan x="2796.5" dy="13.3">metabolic process</tspan></text></g>
<g id="n91"><rect class="s" x="2901" y="643.5" width="105.5" height="36.5"/><rect class="b" x="2900" y="642" width="105.5" height="36.5"/><text class="t" y="658.1"><tspan x="2952.8">regulation of</tspan><tspan x="2952.8" dy="13.3">gene expression</tspan></text></g>
<g id="n92"><rect class="s" x="3311" y="637" width="115" height="49.5"/><rect class="b" x="3310" y="635.5" width="115" height="49.5"/><text class="t" y="651.5"><tspan x="3367.5">positive regulation</tspan><tspan x="3367.5" dy="13.3">of epithelial</tspan><tspan x="3367.5" dy="13.3">cell differentiation</tspan></text></g>
<g id="n93"><rect class="s" x="3524" y="650.5" width="156" height="23"/><rect class="b" x="3523" y="649" width="156" height="23"/><text class="t" x="3601" y="665">hepatocyte differentiation</text></g>
<g id="n94"><rect class="s" x="4859" y="85.5" width="123" height="36"/><rect class="b" x="4858" y="84" width="123" height="36"/><text class="t" y="99.9"><tspan x="4919.5">multicellular</tspan><tspan x="4919.5" dy="13.3">organismal process</tspan></text></g>
<g id="n95"><rect class="s" x="4411.5" y="164" width="128" height="36"/><rect class="b" x="4410.5" y="162.5" width="128" height="36"/><text class="t" y="178.4"><tspan x="4474.5">anatomical structure</tspan><tspan x="4474.5" dy="13.3">development</tspan></text></g>
<g id="n96"><rect class="s" x="3674.5" y="243" width="122" height="48.5"/><rect class="b" x="3673.5" y="241.5" width="122" height="48.5"/><text class="t" y="257"><tspan x="3734.5">regulation of</tspan><tspan x="3734.5" dy="13.3">multicellular</tspan><tspan x="3734.5" dy="13.3">organismal process</tspan></text></g>
<g id="n97"><rect class="s" x="4241" y="249.5" width="127.5" height="36"/><rect class="b" x="4240" y="248" width="127.5" height="36"/><text class="t" y="263.9"><tspan x="4303.8">anatomical structure</tspan><tspan x="4303.8" dy="13.3">morphogenesis</tspan></text></g>
<g id="n98"><rect class="s" x="4414" y="256" width="122" height="22.5"/><rect class="b" x="4413" y="254.5" width="122" height="22.5"/><text class="t" x="4474" y="270.3">tissue development</text></g>
<g id="n99"><rect class="s" x="4850" y="249.5" width="141" height="36"/><rect class="b" x="4849" y="248" width="141" height="36"/><text class="t" y="263.9"><tspan x="4919.5">multicellular</tspan><tspan x="4919.5" dy="13.3">organism development</tspan></text></g>
<g id="n100"><rect class="s" x="3580" y="332" width="123.5" height="49.5"/><rect class="b" x="3579" y="330.5" width="123.5" height="49.5"/><text class="t" y="346.5"><tspan x="3640.8">positive regulation</tspan><tspan x="3640.8" dy="13.3">of multicellular</tspan><tspan x="3640.8" dy="13.3">organismal process</tspan></text></g>
<g id="n101"><rect class="s" x="3750" y="332" width="151" height="49.5"/><rect class="b" x="3749" y="330.5" width="151" height="49.5"/><text class="t" y="346.5"><tspan x="3824.5">regulation of</tspan><tspan x="3824.5" dy="13.3">multicellular</tspan><tspan x="3824.5" dy="13.3">organismal development</tspan></text></g>
<g id="n102"><rect class="s" x="3998.5" y="338.5" width="83" height="36"/><rect class="b" x="3997.5" y="337" width="83" height="36"/><text class="t" y="352.9"><tspan x="4039">animal organ</tspan><tspan x="4039" dy="13.3">development</tspan></text></g>
<g id="n103"><rect class="s" x="4127" y="345" width="147" height="23"/><rect class="b" x="4126" y="343.5" width="147" height="23"/><text class="t" x="4199.5" y="359.5">epithelium development</text></g>
<g id="n104"><rect class="s" x="4320.5" y="345" width="137.5" height="23"/><rect class="b" x="4319.5" y="343.5" width="137.5" height="23"/><text class="t" x="4388.3" y="359.5">tissue morphogenesis</text></g>
<g id="n105"><rect class="s" x="4503.5" y="345" width="148.5" height="23"/><rect class="b" x="4502.5" y="343.5" width="148.5" height="23"/><text class="t" x="4576.8" y="359.5">mesoderm development</text></g>
<g id="n106"><rect class="s" x="4749" y="345" width="131" height="23"/><rect class="b" x="4748" y="343.5" width="131" height="23"/><text class="t" x="4813.5" y="359.5">system development</text></g>
<g id="n107"><rect class="s" x="3983" y="445.5" width="117.5" height="22.5"/><rect class="b" x="3982" y="444" width="117.5" height="22.5"/><text class="t" x="4040.8" y="459.8">gland development</text></g>
<g id="n108"><rect class="s" x="4197" y="445.5" width="162.5" height="22.5"/><rect class="b" x="4196" y="444" width="162.5" height="22.5"/><text class="t" x="4277.3" y="459.8">mesoderm morphogenesis</text></g>
<g id="n109"><rect class="s" x="4406" y="438.5" width="102.5" height="36.5"/><rect class="b" x="4405" y="437" width="102.5" height="36.5"/><text class="t" y="453.1"><tspan x="4456.3">axial mesoderm</tspan><tspan x="4456.3" dy="13.3">development</tspan></text></g>
<g id="n110"><rect class="s" x="4555" y="438.5" width="130" height="36.5"/><rect class="b" x="4554" y="437" width="130" height="36.5"/><text class="t" y="453.1"><tspan x="4619">hepaticobiliary</tspan><tspan x="4619" dy="13.3">system development</tspan></text></g>
<g id="n111"><rect class="s" x="4834" y="438.5" width="101" height="36.5"/><rect class="b" x="4833" y="437" width="101" height="36.5"/><text class="t" y="453.1"><tspan x="4883.5">nervous system</tspan><tspan x="4883.5" dy="13.3">development</tspan></text></g>
<g id="n112"><rect class="s" x="3983" y="530" width="93.5" height="58.5"/><rect class="b" x="3982" y="528.5" width="93.5" height="36.5"/><text class="t" y="544.6"><tspan x="4028.8">hatching gland</tspan><tspan x="4028.8" dy="13.3">development</tspan></text><rect class="zfish c" x="3982" y="565" width="47" height="22"/><rect class="zfish c" x="4029" y="565" width="46.5" height="22"/><text class="t" x="4005.5" y="580.5">Zfish</text><text class="t" x="4052.3" y="580.5">foxa3</text></g>
<g id="n113"><rect class="s" x="4122" y="548" width="112" height="22.5"/><rect class="b" x="4121" y="546.5" width="112" height="22.5"/><text class="t" x="4177" y="562.3">liver development</text></g>
<g id="n114"><rect class="s" x="4369" y="530" width="102" height="58.5"/><rect class="b" x="4368" y="528.5" width="102" height="36.5"/><text class="t" y="544.6"><tspan x="4419">axial mesoderm</tspan><tspan x="4419" dy="13.3">morphogenesis</tspan></text><rect class="zfish c" x="4368" y="565" width="51.7" height="22"/><rect class="zfish c" x="4419.7" y="565" width="50.3" height="22"/><text class="t" x="4393.9" y="580.5">Zfish</text><text class="t" x="4444.9" y="580.5">foxa3</text></g>
<g id="n115"><rect class="s" x="4556.5" y="548" width="115.5" height="22.5"/><rect class="b" x="4555.5" y="546.5" width="115.5" height="22.5"/><text class="t" x="4613.3" y="562.3">head development</text></g>
<g id="n116"><rect class="s" x="4718.5" y="541" width="130" height="36.5"/><rect class="b" x="4717.5" y="539.5" width="130" height="36.5"/><text class="t" y="555.6"><tspan x="4782.5">central nervous</tspan><tspan x="4782.5" dy="13.3">system development</tspan></text></g>
<g id="n117"><rect class="s" x="4556.5" y="640" width="115.5" height="44.5"/><rect class="b" x="4555.5" y="638.5" width="115.5" height="22.5"/><text class="t" x="4613.3" y="654.3">brain development</text><rect class="zfish c" x="4555.5" y="661" width="58.2" height="22"/><rect class="zfish c" x="4613.7" y="661" width="57.3" height="22"/><text class="t" x="4584.6" y="676.5">Zfish</text><text class="t" x="4642.4" y="676.5">foxa3</text></g>
<g id="n118"><rect class="s" x="4855" y="643.5" width="83.5" height="36.5"/><rect class="b" x="4854" y="642" width="83.5" height="36.5"/><text class="t" y="658.1"><tspan x="4895.8">neural tube</tspan><tspan x="4895.8" dy="13.3">development</tspan></text></g>
<g id="n119"><rect class="s" x="4346" y="736" width="84" height="57.5"/><rect class="b" x="4345" y="734.5" width="84" height="36"/><text class="t" y="750.4"><tspan x="4387">floor plate</tspan><tspan x="4387" dy="13.3">development</tspan></text><rect class="zfish c" x="4345" y="770.5" width="42.4" height="21.5"/><rect class="zfish c" x="4387.4" y="770.5" width="41.6" height="21.5"/><text class="t" x="4366.2" y="785.8">Zfish</text><text class="t" x="4408.2" y="785.8">foxa3</text></g>
<g id="n120"><rect class="s" x="5184" y="92" width="80" height="22.5"/><rect class="b" x="5183" y="90.5" width="80" height="22.5"/><text class="t" x="5223" y="106.3">reproduction</text></g>
<g id="n121"><rect class="s" x="5726" y="85.5" width="81" height="36"/><rect class="b" x="5725" y="84" width="81" height="36"/><text class="t" y="99.9"><tspan x="5765.5">homeostatic</tspan><tspan x="5765.5" dy="13.3">process</tspan></text></g>
<g id="n122"><rect class="s" x="5138.5" y="164" width="138" height="36"/><rect class="b" x="5137.5" y="162.5" width="138" height="36"/><text class="t" y="178.4"><tspan x="5206.5">multicellular</tspan><tspan x="5206.5" dy="13.3">organism reproduction</tspan></text></g>
<g id="n123"><rect class="s" x="5323" y="164" width="81" height="36"/><rect class="b" x="5322" y="162.5" width="81" height="36"/><text class="t" y="178.4"><tspan x="5362.5">reproductive</tspan><tspan x="5362.5" dy="13.3">process</tspan></text></g>
<g id="n124"><rect class="s" x="5459.5" y="170.5" width="121.5" height="23"/><rect class="b" x="5458.5" y="169" width="121.5" height="23"/><text class="t" x="5519.3" y="185">sexual reproduction</text></g>
<g id="n125"><rect class="s" x="5631" y="157" width="104" height="50"/><rect class="b" x="5630" y="155.5" width="104" height="50"/><text class="t" y="171.7"><tspan x="5682">multicellular</tspan><tspan x="5682" dy="13.3">organismal-level</tspan><tspan x="5682" dy="13.3">homeostasis</tspan></text></g>
<g id="n126"><rect class="s" x="5782" y="170.5" width="139.5" height="23"/><rect class="b" x="5781" y="169" width="139.5" height="23"/><text class="t" x="5850.8" y="185">chemical homeostasis</text></g>
<g id="n127"><rect class="s" x="5967" y="170.5" width="129.5" height="23"/><rect class="b" x="5966" y="169" width="129.5" height="23"/><text class="t" x="6030.8" y="185">cellular homeostasis</text></g>
<g id="n128"><rect class="s" x="5163" y="243" width="106" height="48.5"/><rect class="b" x="5162" y="241.5" width="106" height="48.5"/><text class="t" y="257"><tspan x="5215">developmental</tspan><tspan x="5215" dy="13.3">process involved</tspan><tspan x="5215" dy="13.3">in reproduction</tspan></text></g>
<g id="n129"><rect class="s" x="5315" y="243" width="148.5" height="48.5"/><rect class="b" x="5314" y="241.5" width="148.5" height="48.5"/><text class="t" y="257"><tspan x="5388.3">multicellular</tspan><tspan x="5388.3" dy="13.3">organismal reproductive</tspan><tspan x="5388.3" dy="13.3">process</tspan></text></g>
<g id="n130"><rect class="s" x="5666" y="243" width="83.5" height="48.5"/><rect class="b" x="5665" y="241.5" width="83.5" height="48.5"/><text class="t" y="257"><tspan x="5706.8">homeostasis</tspan><tspan x="5706.8" dy="13.3">of number of</tspan><tspan x="5706.8" dy="13.3">cells</tspan></text></g>
<g id="n131"><rect class="s" x="5820" y="249.5" width="84.5" height="36"/><rect class="b" x="5819" y="248" width="84.5" height="36"/><text class="t" y="263.9"><tspan x="5861.3">carbohydrate</tspan><tspan x="5861.3" dy="13.3">homeostasis</tspan></text></g>
<g id="n132"><rect class="s" x="5954.5" y="249.5" width="139.5" height="36"/><rect class="b" x="5953.5" y="248" width="139.5" height="36"/><text class="t" y="263.9"><tspan x="6023.3">intracellular</tspan><tspan x="6023.3" dy="13.3">chemical homeostasis</tspan></text></g>
<g id="n133"><rect class="s" x="4926" y="345" width="113" height="23"/><rect class="b" x="4925" y="343.5" width="113" height="23"/><text class="t" x="4981.5" y="359.5">tube development</text></g>
<g id="n134"><rect class="s" x="5085" y="345" width="130.5" height="23"/><rect class="b" x="5084" y="343.5" width="130.5" height="23"/><text class="t" x="5149.3" y="359.5">embryo development</text></g>
<g id="n135"><rect class="s" x="5262.5" y="338.5" width="125.5" height="36"/><rect class="b" x="5261.5" y="337" width="125.5" height="36"/><text class="t" y="352.9"><tspan x="5324.3">pattern specification</tspan><tspan x="5324.3" dy="13.3">process</tspan></text></g>
<g id="n136"><rect class="s" x="5492" y="345" width="116.5" height="23"/><rect class="b" x="5491" y="343.5" width="116.5" height="23"/><text class="t" x="5549.3" y="359.5">gamete generation</text></g>
<g id="n137"><rect class="s" x="5655.5" y="328.5" width="142" height="57.5"/><rect class="b" x="5654.5" y="327" width="142" height="36"/><text class="t" y="342.9"><tspan x="5725.5">hematopoietic</tspan><tspan x="5725.5" dy="13.3">stem cell homeostasis</tspan></text><rect class="mouse c" x="5654.5" y="363" width="71.5" height="21.5"/><rect class="mouse c" x="5726" y="363" width="70.5" height="21.5"/><text class="t" x="5690.3" y="378.3">Mouse</text><text class="t" x="5761.3" y="378.3">Foxa3</text></g>
<g id="n138"><rect class="s" x="5843.5" y="345" width="133" height="23"/><rect class="b" x="5842.5" y="343.5" width="133" height="23"/><text class="t" x="5909" y="359.5">glucose homeostasis</text></g>
<g id="n139"><rect class="s" x="5031.5" y="431.5" width="130.5" height="50"/><rect class="b" x="5030.5" y="430" width="130.5" height="50"/><text class="t" y="446.2"><tspan x="5095.8">embryo development</tspan><tspan x="5095.8" dy="13.3">ending in birth</tspan><tspan x="5095.8" dy="13.3">or egg hatching</tspan></text></g>
<g id="n140"><rect class="s" x="5209" y="438.5" width="126.5" height="36.5"/><rect class="b" x="5208" y="437" width="126.5" height="36.5"/><text class="t" y="453.1"><tspan x="5271.3">neural plate</tspan><tspan x="5271.3" dy="13.3">pattern specification</tspan></text></g>
<g id="n141"><rect class="s" x="5381" y="445.5" width="92" height="22.5"/><rect class="b" x="5380" y="444" width="92" height="22.5"/><text class="t" x="5426" y="459.8">regionalization</text></g>
<g id="n142"><rect class="s" x="5570.5" y="438.5" width="84.5" height="36.5"/><rect class="b" x="5569.5" y="437" width="84.5" height="36.5"/><text class="t" y="453.1"><tspan x="5611.8">male gamete</tspan><tspan x="5611.8" dy="13.3">generation</tspan></text></g>
<g id="n143"><rect class="s" x="5899.5" y="428" width="134.5" height="57.5"/><rect class="b" x="5898.5" y="426.5" width="134.5" height="36.5"/><text class="t" y="442.6"><tspan x="5965.8">intracellular</tspan><tspan x="5965.8" dy="13.3">glucose homeostasis</tspan></text><rect class="mouse c" x="5898.5" y="463" width="67.5" height="21"/><rect class="mouse c" x="5966" y="463" width="67" height="21"/><text class="t" x="5932.3" y="478">Mouse</text><text class="t" x="5999.5" y="478">Foxa3</text></g>
<g id="n144"><rect class="s" x="5034" y="541" width="123" height="36.5"/><rect class="b" x="5033" y="539.5" width="123" height="36.5"/><text class="t" y="555.6"><tspan x="5094.5">chordate embryonic</tspan><tspan x="5094.5" dy="13.3">development</tspan></text></g>
<g id="n145"><rect class="s" x="5227" y="541" width="92" height="36.5"/><rect class="b" x="5226" y="539.5" width="92" height="36.5"/><text class="t" y="555.6"><tspan x="5272">neural plate</tspan><tspan x="5272" dy="13.3">regionalization</tspan></text></g>
<g id="n146"><rect class="s" x="5366.5" y="541" width="126" height="36.5"/><rect class="b" x="5365.5" y="539.5" width="126" height="36.5"/><text class="t" y="555.6"><tspan x="5428.5">anterior/posterior</tspan><tspan x="5428.5" dy="13.3">pattern specification</tspan></text></g>
<g id="n147"><rect class="s" x="5548" y="537" width="110" height="44.5"/><rect class="b" x="5547" y="535.5" width="110" height="22.5"/><text class="t" x="5602" y="551.3">spermatogenesis</text><rect class="mouse c" x="5547" y="558" width="55" height="22"/><rect class="mouse c" x="5602" y="558" width="55" height="22"/><text class="t" x="5574.5" y="573.5">Mouse</text><text class="t" x="5629.5" y="573.5">Foxa3</text></g>
<g id="n148"><rect class="s" x="5296.5" y="626.5" width="108" height="70.5"/><rect class="b" x="5295.5" y="625" width="108" height="49.5"/><text class="t" y="641"><tspan x="5349.5">neural plate</tspan><tspan x="5349.5" dy="13.3">anterior/posterior</tspan><tspan x="5349.5" dy="13.3">regionalization</tspan></text><rect class="zfish c" x="5295.5" y="674.5" width="54.5" height="21"/><rect class="zfish c" x="5350" y="674.5" width="53.5" height="21"/><text class="t" x="5322.8" y="689.5">Zfish</text><text class="t" x="5376.8" y="689.5">foxa3</text></g>
</g>
</svg>
